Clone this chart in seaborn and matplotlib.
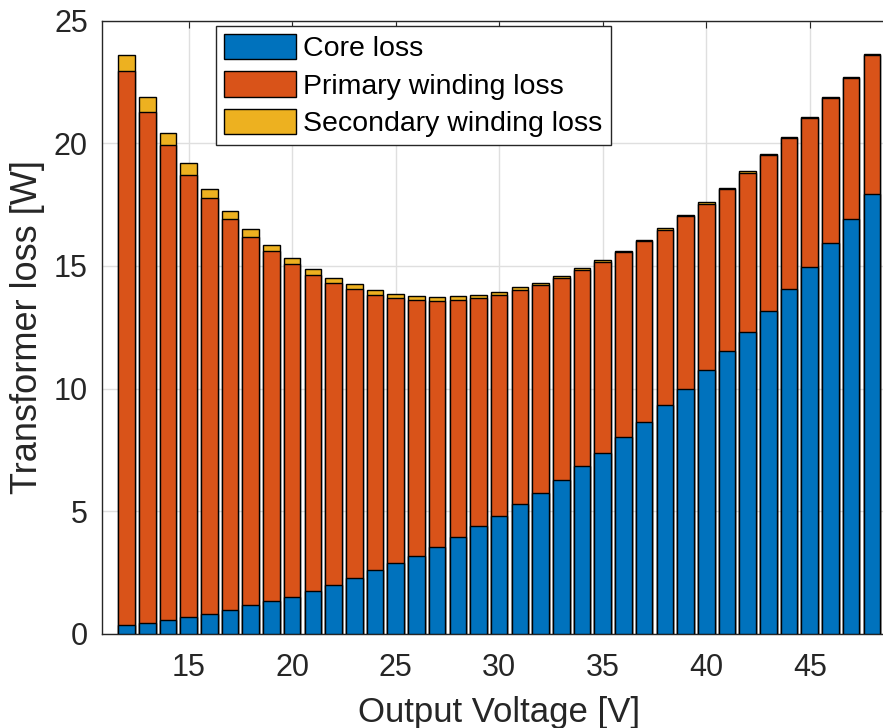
import numpy as np
import pandas as pd
import matplotlib
matplotlib.use("Agg")
import matplotlib.pyplot as plt
import seaborn as sns

# Values (W), one entry per output voltage.
voltage = list(range(12, 49))
core_loss = [0.37, 0.44, 0.56, 0.68, 0.81, 0.98, 1.16, 1.35, 1.51, 1.76,
             1.99, 2.28, 2.58, 2.88, 3.18, 3.55, 3.94, 4.38, 4.80, 5.28,
             5.76, 6.29, 6.83, 7.36, 8.02, 8.63, 9.34, 9.98, 10.76, 11.54,
             12.32, 13.17, 14.06, 14.95, 15.92, 16.93, 17.95]
# core + primary (top of the orange segment)
core_primary = [22.97, 21.30, 19.93, 18.73, 17.76, 16.91, 16.20, 15.62, 15.08, 14.65,
                14.31, 14.06, 13.82, 13.69, 13.62, 13.58, 13.62, 13.69, 13.80, 14.03,
                14.22, 14.52, 14.83, 15.17, 15.58, 16.00, 16.48, 17.02, 17.54, 18.15,
                18.81, 19.52, 20.24, 21.02, 21.86, 22.68, 23.61]
secondary_loss = [0.65, 0.60, 0.48, 0.47, 0.37, 0.32, 0.31, 0.24, 0.24, 0.23,
                  0.22, 0.19, 0.19, 0.18, 0.15, 0.16, 0.14, 0.14, 0.13, 0.10,
                  0.09, 0.09, 0.08, 0.06, 0.05, 0.05, 0.05, 0.05, 0.05, 0.05,
                  0.05, 0.04, 0.04, 0.04, 0.04, 0.04, 0.04]

primary_loss = [t - c for t, c in zip(core_primary, core_loss)]

df = pd.DataFrame({"V": voltage, "core": core_loss, "primary": primary_loss,
                   "secondary": secondary_loss})
df["cum_primary"] = df["core"] + df["primary"]
df["total"] = df["cum_primary"] + df["secondary"]

C_CORE = "#0072BD"
C_PRI = "#D95319"
C_SEC = "#EDB120"
DARK = "#262626"

sns.set_theme(style="whitegrid")
plt.rcParams["font.family"] = ["Liberation Sans", "DejaVu Sans"]

fig = plt.figure(figsize=(8.83, 7.28), dpi=100)
ax = fig.add_axes([0.1152, 0.1295, 0.9003, 0.8419])

bar_kw = dict(native_scale=True, width=0.8, edgecolor="black", linewidth=1.0,
              errorbar=None, ax=ax, zorder=3)
sns.barplot(data=df, x="V", y="total", color=C_SEC, saturation=1,
            label="Secondary winding loss", **bar_kw)
sns.barplot(data=df, x="V", y="cum_primary", color=C_PRI, saturation=1,
            label="Primary winding loss", **bar_kw)
sns.barplot(data=df, x="V", y="core", color=C_CORE, saturation=1,
            label="Core loss", **bar_kw)

ax.set_xlim(10.8, 49.2)
ax.set_ylim(0, 25)
ax.set_xticks([15, 20, 25, 30, 35, 40, 45])
ax.set_yticks([0, 5, 10, 15, 20, 25])
ax.grid(True, color="#dfdfdf", linewidth=1.0, zorder=0)
ax.set_axisbelow(True)
for s in ax.spines.values():
    s.set_color(DARK)
    s.set_linewidth(1.0)
ax.tick_params(direction="in", length=5, width=0.8, colors=DARK,
               labelsize=22, top=True, right=True)
ax.tick_params(axis="x", pad=14)
ax.tick_params(axis="y", pad=10)

ax.set_xlabel("Output Voltage [V]", fontsize=25, color=DARK, labelpad=9)
ax.set_ylabel("Transformer loss [W]", fontsize=26, color=DARK, labelpad=6)

handles, labels = ax.get_legend_handles_labels()
leg = ax.legend(handles[::-1], labels[::-1], loc="upper left",
                bbox_to_anchor=(0.1434, 0.992), fontsize=20.5, frameon=True,
                fancybox=False, edgecolor=DARK, framealpha=1,
                handlelength=2.55, handleheight=1.0, handletextpad=0.25,
                labelspacing=0.32, borderpad=0.28, borderaxespad=0)
leg.get_frame().set_linewidth(1.0)
for t in leg.get_texts():
    t.set_color("black")

fig.savefig("out.png", dpi=100)
